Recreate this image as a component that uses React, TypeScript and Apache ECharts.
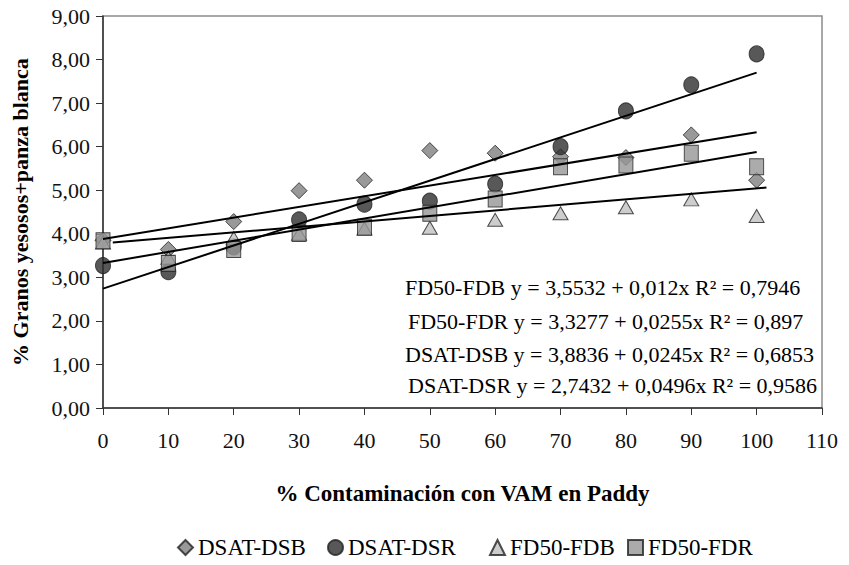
import React, { useEffect, useRef } from "react";
import * as echarts from "echarts";

const xValues = [0, 10, 20, 30, 40, 50, 60, 70, 80, 90, 100];
const dsatDsb = [3.85, 3.64, 4.28, 4.99, 5.23, 5.91, 5.85, 5.77, 5.75, 6.27, 5.23];
const dsatDsr = [3.27, 3.13, 3.7, 4.32, 4.68, 4.75, 5.14, 6.0, 6.82, 7.42, 8.13];
const fd50Fdb = [3.8, 3.45, 3.9, 4.0, 4.12, 4.14, 4.32, 4.47, 4.61, 4.79, 4.41];
const fd50Fdr = [3.84, 3.32, 3.64, 4.01, 4.15, 4.47, 4.8, 5.54, 5.58, 5.85, 5.54];

const seriesNames = ["DSAT-DSB", "DSAT-DSR", "FD50-FDB", "FD50-FDR"];

// trend line end points
const trendDsatDsb = [[0, 3.88], [100, 6.33]];
const trendDsatDsr = [[0, 2.74], [100, 7.7]];
const trendFd50Fdb = [[1.5, 3.8], [101.5, 5.06]];
const trendFd50Fdr = [[0, 3.33], [100, 5.88]];

const equations = [
  "FD50-FDB y = 3,5532 + 0,012x R² = 0,7946",
  "FD50-FDR y = 3,3277 + 0,0255x R² = 0,897",
  "DSAT-DSB y = 3,8836 + 0,0245x R² = 0,6853",
  "DSAT-DSR y = 2,7432 + 0,0496x R² = 0,9586",
];

const xAxisTitle = "% Contaminación con VAM en Paddy";
const yAxisTitle = "% Granos yesosos+panza blanca";

const FONT = "Liberation Serif";

function pairs(ys: number[]) {
  return xValues.map((x, i) => [x, ys[i]]);
}

export default function App() {
  const ref = useRef<HTMLDivElement>(null);
  useEffect(() => {
    if (!ref.current) return;
    const chart = echarts.init(ref.current, null, { renderer: "svg" });
    const border = { borderColor: "#222", borderWidth: 1 };
    const trend = (data: number[][]) => ({
      type: "line",
      data,
      symbol: "none",
      silent: true,
      z: 5,
      lineStyle: { color: "#000", width: 2 },
    });
    const eqX = [405, 408, 405, 408];
    const eqY = [288, 322, 355, 386];
    const legendLeft = [172, 322, 484, 622];
    chart.setOption({
      animation: false,
      backgroundColor: "#fff",
      textStyle: { fontFamily: FONT },
      grid: {
        left: 103,
        right: 27,
        top: 16,
        bottom: 157,
        show: true,
        borderColor: "#8c8c8c",
        borderWidth: 1.5,
      },
      xAxis: {
        type: "value",
        min: 0,
        max: 110,
        interval: 10,
        name: xAxisTitle,
        nameLocation: "middle",
        nameGap: 74,
        nameTextStyle: { fontFamily: FONT, fontSize: 23, fontWeight: "bold", color: "#000" },
        axisLine: { onZero: false, lineStyle: { color: "#333", width: 1.5 } },
        axisTick: { show: true, inside: false, length: 7, lineStyle: { color: "#333" } },
        axisLabel: { fontFamily: FONT, fontSize: 22, color: "#111", margin: 21 },
        splitLine: { show: false },
      },
      yAxis: {
        type: "value",
        min: 0,
        max: 9,
        interval: 1,
        name: yAxisTitle,
        nameLocation: "middle",
        nameGap: 72,
        nameRotate: 90,
        nameTextStyle: { fontFamily: FONT, fontSize: 22, fontWeight: "bold", color: "#000" },
        axisLine: { show: true, lineStyle: { color: "#333", width: 1.5 } },
        axisTick: { show: true, inside: false, length: 7, lineStyle: { color: "#333" } },
        axisLabel: {
          fontFamily: FONT,
          fontSize: 22,
          color: "#111",
          margin: 13,
          formatter: (v: number) => v.toFixed(2).replace(".", ","),
        },
        splitLine: { show: false },
      },
      legend: seriesNames.map((n, i) => ({
        data: [n],
        left: legendLeft[i],
        top: 531,
        itemWidth: 15,
        itemHeight: 15,
        textStyle: { fontFamily: FONT, fontSize: 23, color: "#000" },
      })),
      series: [
        {
          name: seriesNames[0],
          type: "scatter",
          symbol: "diamond",
          symbolSize: [16, 16],
          data: pairs(dsatDsb),
          itemStyle: { color: "#808080", ...border },
          z: 2,
        },
        {
          name: seriesNames[1],
          type: "scatter",
          symbol: "circle",
          symbolSize: [15, 16],
          data: pairs(dsatDsr),
          itemStyle: { color: "#2e2e2e", borderColor: "#222", borderWidth: 1 },
          z: 3,
        },
        {
          name: seriesNames[2],
          type: "scatter",
          symbol: "triangle",
          symbolSize: [15, 13],
          data: pairs(fd50Fdb),
          itemStyle: { color: "#c0c0c0", ...border },
          z: 3,
        },
        {
          name: seriesNames[3],
          type: "scatter",
          symbol: "rect",
          symbolSize: [14, 16],
          data: pairs(fd50Fdr),
          itemStyle: { color: "#969696", ...border },
          z: 4,
        },
        trend(trendDsatDsb),
        trend(trendDsatDsr),
        trend(trendFd50Fdb),
        trend(trendFd50Fdr),
      ],
      graphic: equations.map((t, i) => ({
        type: "text",
        left: eqX[i],
        top: eqY[i] - 12,
        z: 10,
        style: { text: t, fontFamily: FONT, fontSize: 22, fill: "#000" },
      })),
    });
    return () => chart.dispose();
  }, []);
  return <div ref={ref} style={{ width: 849, height: 565, position: "absolute", left: 0, top: 0 }} />;
}
